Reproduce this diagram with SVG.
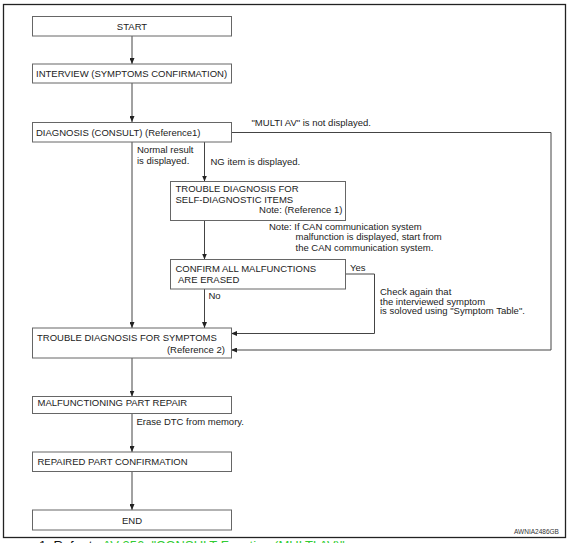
<svg xmlns="http://www.w3.org/2000/svg" width="575" height="543" viewBox="0 0 575 543">
<style>
text{font-family:"Liberation Sans",Arial,sans-serif;font-size:9.5px;fill:#222}
.box{fill:#fff;stroke:#666;stroke-width:1}
.ln{fill:none;stroke:#444;stroke-width:1}
.c{text-anchor:middle}
.r{text-anchor:end}
</style>
<defs>
<marker id="ah" markerUnits="userSpaceOnUse" markerWidth="6" markerHeight="5" refX="6" refY="2.5" orient="auto">
<path d="M0,0 L6,2.5 L0,5 Z" fill="#222"/>
</marker>
</defs>
<rect x="0" y="0" width="575" height="543" fill="#fff"/>
<rect x="3.5" y="4.5" width="562" height="533" fill="none" stroke="#222" stroke-width="1.3"/>

<g id="connectors">
<line class="ln" x1="132" y1="36" x2="132" y2="64" marker-end="url(#ah)"/>
<line class="ln" x1="132" y1="83" x2="132" y2="122" marker-end="url(#ah)"/>
<line class="ln" x1="132" y1="142" x2="132" y2="328" marker-end="url(#ah)"/>
<line class="ln" x1="204.5" y1="142" x2="204.5" y2="181.5" marker-end="url(#ah)"/>
<line class="ln" x1="204.5" y1="220.5" x2="204.5" y2="259.5" marker-end="url(#ah)"/>
<line class="ln" x1="204.5" y1="289" x2="204.5" y2="328" marker-end="url(#ah)"/>
<polyline class="ln" points="231,132.5 551,132.5 551,350 231,350" marker-end="url(#ah)"/>
<polyline class="ln" points="345.5,274 374.5,274 374.5,333.5 231,333.5" marker-end="url(#ah)"/>
<line class="ln" x1="132" y1="358" x2="132" y2="396.5" marker-end="url(#ah)"/>
<line class="ln" x1="132" y1="413.5" x2="132" y2="452" marker-end="url(#ah)"/>
<line class="ln" x1="132" y1="471.5" x2="132" y2="510" marker-end="url(#ah)"/>
<text x="251.5" y="126">"MULTI AV" is not displayed.</text>
<text x="137" y="152.5">Normal result</text>
<text x="137" y="163.5">is displayed.</text>
<text x="210.5" y="165">NG item is displayed.</text>
<text x="350" y="270.5">Yes</text>
<text x="208.5" y="298.5">No</text>
<text x="136.5" y="425">Erase DTC from memory.</text>
</g>

<g id="start">
<rect class="box" x="32.5" y="16.5" width="199" height="19.5"/>
<text class="c" x="132" y="29.5">START</text>
</g>
<g id="interview">
<rect class="box" x="32.5" y="64" width="199" height="19"/>
<text x="36" y="77">INTERVIEW (SYMPTOMS CONFIRMATION)</text>
</g>
<g id="diagnosis">
<rect class="box" x="32.5" y="122.5" width="199" height="19.5"/>
<text x="36" y="135.5">DIAGNOSIS (CONSULT) (Reference1)</text>
</g>
<g id="self-diag">
<rect class="box" x="170.5" y="181.5" width="175" height="39"/>
<text x="175.5" y="192">TROUBLE DIAGNOSIS FOR</text>
<text x="175.5" y="202.5">SELF-DIAGNOSTIC ITEMS</text>
<text class="r" x="342.5" y="213">Note: (Reference 1)</text>
</g>
<g id="can-note">
<text x="269" y="229.5">Note: If CAN communication system</text>
<text x="295.5" y="240">malfunction is displayed, start from</text>
<text x="295.5" y="250.5">the CAN communication system.</text>
</g>
<g id="confirm">
<rect class="box" x="170.5" y="259.5" width="175" height="29.5"/>
<text x="175.5" y="272">CONFIRM ALL MALFUNCTIONS</text>
<text x="178" y="283"> ARE ERASED</text>
</g>
<g id="check-note">
<text x="380" y="295">Check again that</text>
<text x="380" y="304.5">the interviewed symptom</text>
<text x="380" y="314">is soloved using "Symptom Table".</text>
</g>
<g id="symptoms">
<rect class="box" x="32.5" y="328" width="199" height="30"/>
<text x="37" y="341">TROUBLE DIAGNOSIS FOR SYMPTOMS</text>
<text class="r" x="225" y="352.5">(Reference 2)</text>
</g>
<g id="repair">
<rect class="box" x="32.5" y="396.5" width="199" height="17"/>
<text x="37.5" y="406">MALFUNCTIONING PART REPAIR</text>
</g>
<g id="confirmation">
<rect class="box" x="32.5" y="452" width="199" height="19.5"/>
<text x="37.5" y="464.5">REPAIRED PART CONFIRMATION</text>
</g>
<g id="end">
<rect class="box" x="32.5" y="510" width="199" height="20"/>
<text class="c" x="132" y="523.5">END</text>
</g>
<text x="514" y="534" style="font-size:6.5px;fill:#333">AWNIA2486GB</text>
<text x="39" y="550" style="font-size:13px;fill:#111">1.  Refer to <tspan style="fill:#33cc33">AV-356, "CONSULT Function (MULTI AV)"</tspan></text>
</svg>
